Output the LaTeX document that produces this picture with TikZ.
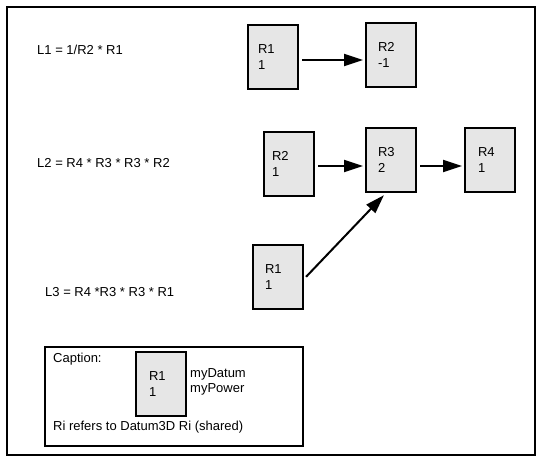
\documentclass[tikz,border=0pt]{standalone}
\usepackage{fontspec}
\setmainfont{Liberation Sans}
\usetikzlibrary{arrows.meta}
\definecolor{boxfill}{HTML}{E6E6E6}
\begin{document}
\begin{tikzpicture}[x=1pt,y=-1pt,
  every node/.style={font=\fontsize{13}{16}\selectfont},
  rbox/.style={draw, line width=2pt, fill=boxfill, minimum width=50pt, minimum height=64pt,
    inner xsep=12pt, inner ysep=0pt, text width=26pt, align=left},
  lbl/.style={anchor=west, inner sep=0pt},
  arr/.style={line width=2pt, -{Triangle[length=19pt,width=12pt]},
    shorten <=3pt, shorten >=2pt}]
\useasboundingbox (0,0) rectangle (540,460);
\draw[line width=2pt] (7,7) rectangle (535,455);
% equations
\node[lbl] (eq1) at (37,50) {L1 = 1/R2 * R1};
\node[lbl] (eq2) at (37,163) {L2 = R4 * R3 * R3 * R2};
\node[lbl] (eq3) at (45,292) {L3 = R4 *R3 * R3 * R1};
% row 1
\node[rbox, inner xsep=10pt, text width=30pt] (a1) at (273,57) {R1\\1};
\node[rbox] (a2) at (391,55) {R2\\-1};
% row 2
\node[rbox, inner xsep=8pt, text width=34pt] (b2) at (289,164) {R2\\1};
\node[rbox] (b3) at (391,160) {R3\\2};
\node[rbox, inner xsep=13pt, text width=24pt] (b4) at (490,160) {R4\\1};
% row 3
\node[rbox] (c1) at (278,277) {R1\\1};
% arrows
\draw[arr] ([yshift=-3pt]a1.east) -- ([yshift=-3pt]a1.east -| a2.west);
\draw[arr] ([yshift=-2pt]b2.east) -- ([yshift=-2pt]b2.east -| b3.west);
\draw[arr] ([yshift=-6pt]b3.east) -- ([yshift=-6pt]b3.east -| b4.west);
\draw[arr, shorten >=3pt] ([yshift=-2pt]c1.east) -- ([xshift=-5pt]b3.south);
% caption
\node[draw, line width=2pt, minimum width=258pt, minimum height=99pt, inner sep=0pt] (cap) at (174,396.5) {};
\node[lbl] (captxt) at (53,359) {Caption:};
\node[rbox, inner xsep=13pt, text width=24pt] (d1) at (161,384) {R1\\1};
\node[lbl] (datum) at (190,374) {myDatum};
\node[lbl] (power) at (190,389) {myPower};
\node[lbl] (ri) at (53,427) {Ri refers to Datum3D Ri (shared)};
\end{tikzpicture}
\end{document}
